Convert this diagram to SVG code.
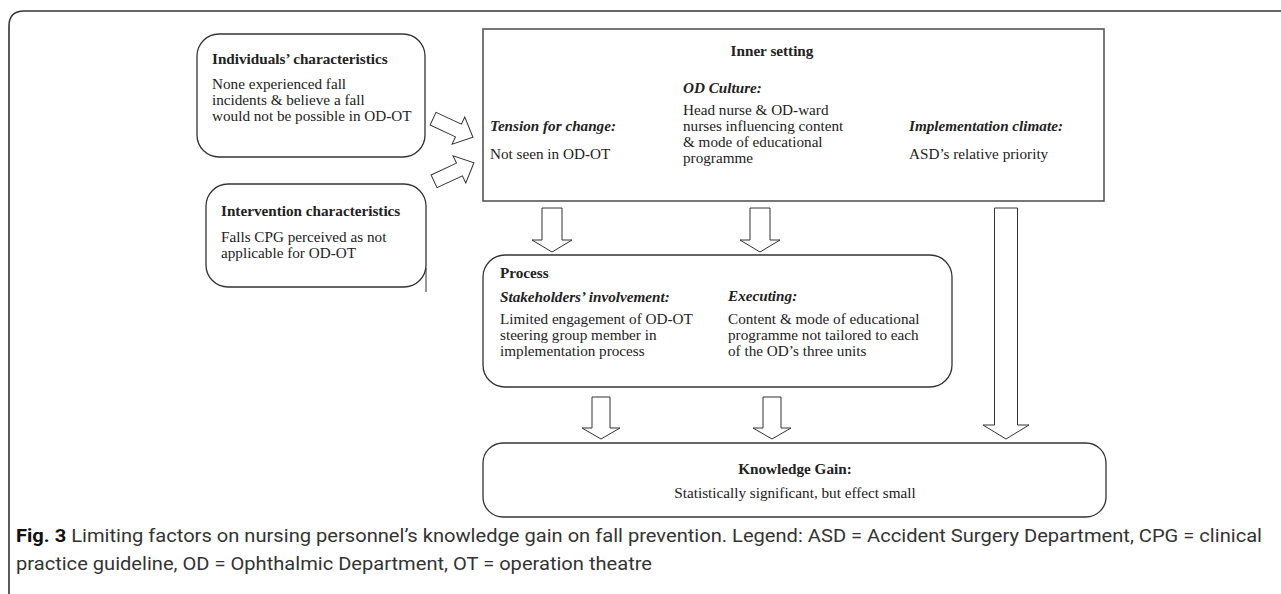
<svg xmlns="http://www.w3.org/2000/svg" width="1281" height="594" viewBox="0 0 1281 594">
<defs>
<style>
.box{fill:#fff;stroke:#333;stroke-width:1.3}
.rect{fill:#fff;stroke:#555;stroke-width:1.6}
.arr{fill:#fff;stroke:#333;stroke-width:1}
.t{font-family:"Liberation Serif","Times New Roman",serif;font-size:15.2px;fill:#222}
.b{font-weight:bold}
.bi{font-weight:bold;font-style:italic}
.c{text-anchor:middle}
.cap{font-family:Roboto,"Liberation Sans",sans-serif;font-size:18px;fill:#333}
</style>
<path id="da1" d="M-10,0 H10 V32 H20 L0,44 L-20,32 H-10 Z"/>
<path id="da2" d="M-9,0 H9 V31 H19 L0,42 L-19,31 H-9 Z"/>
<path id="la" d="M-22,-7 H6 V-15 L22,0 L6,15 V7 H-22 Z"/>
</defs>
<rect width="1281" height="594" fill="#fff"/>
<path d="M9,594 V26 Q9,11 24,11 H1281" fill="none" stroke="#333" stroke-width="1.6"/>

<g id="individuals">
<rect class="box" x="197" y="34" width="228" height="123" rx="22"/>
<text class="t b" x="212" y="64">Individuals’ characteristics</text>
<text class="t" x="212" y="89">None experienced fall</text>
<text class="t" x="212" y="105">incidents &amp; believe a fall</text>
<text class="t" x="212" y="121">would not be possible in OD-OT</text>
</g>

<g id="intervention">
<rect class="box" x="206" y="184" width="220" height="103" rx="22"/>
<path d="M426,268 V292" fill="none" stroke="#333" stroke-width="1"/>
<text class="t b" x="221" y="216">Intervention characteristics</text>
<text class="t" x="221" y="242">Falls CPG perceived as not</text>
<text class="t" x="221" y="258">applicable for OD-OT</text>
</g>

<g id="inner-setting">
<rect class="rect" x="483" y="29" width="621" height="172"/>
<text class="t b c" x="772" y="56">Inner setting</text>
<text class="t bi" x="683" y="93">OD Culture:</text>
<text class="t" x="683" y="115">Head nurse &amp; OD-ward</text>
<text class="t" x="683" y="131">nurses influencing content</text>
<text class="t" x="683" y="147">&amp; mode of educational</text>
<text class="t" x="683" y="163">programme</text>
<text class="t bi" x="490" y="131">Tension for change:</text>
<text class="t" x="490" y="159">Not seen in OD-OT</text>
<text class="t bi" x="909" y="131">Implementation climate:</text>
<text class="t" x="909" y="159">ASD’s relative priority</text>
</g>

<g id="process">
<rect class="box" x="483" y="255" width="469" height="132" rx="22"/>
<text class="t b" x="500" y="278">Process</text>
<text class="t bi" x="500" y="302">Stakeholders’ involvement:</text>
<text class="t" x="500" y="324">Limited engagement of OD-OT</text>
<text class="t" x="500" y="340">steering group member in</text>
<text class="t" x="500" y="356">implementation process</text>
<text class="t bi" x="728" y="301">Executing:</text>
<text class="t" x="728" y="324">Content &amp; mode of educational</text>
<text class="t" x="728" y="340">programme not tailored to each</text>
<text class="t" x="728" y="356">of the OD’s three units</text>
</g>

<g id="knowledge-gain">
<rect class="box" x="483" y="443" width="623" height="74" rx="20"/>
<text class="t b c" x="795" y="474">Knowledge Gain:</text>
<text class="t c" x="795" y="498">Statistically significant, but effect small</text>
</g>

<g id="connectors">
<use href="#la" class="arr" transform="translate(453,128) rotate(25)"/>
<use href="#la" class="arr" transform="translate(454,172) rotate(-25)"/>
<use href="#da1" class="arr" x="552" y="208"/>
<use href="#da1" class="arr" x="760" y="208"/>
<use href="#da2" class="arr" x="601" y="397"/>
<use href="#da2" class="arr" x="772" y="397"/>
<path class="arr" d="M994.5,208 H1017.5 V425 H1029 L1006,439 L983,425 H994.5 Z"/>
</g>

<g id="caption">
<text class="cap" x="16" y="542" textLength="1246" lengthAdjust="spacingAndGlyphs"><tspan font-weight="bold" fill="#111">Fig. 3</tspan> Limiting factors on nursing personnel’s knowledge gain on fall prevention. Legend: ASD = Accident Surgery Department, CPG = clinical</text>
<text class="cap" x="16" y="570" textLength="636" lengthAdjust="spacingAndGlyphs">practice guideline, OD = Ophthalmic Department, OT = operation theatre</text>
</g>
</svg>
